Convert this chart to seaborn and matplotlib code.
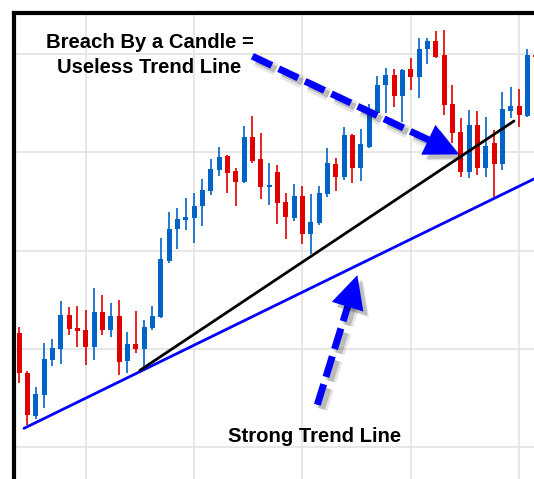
import numpy as np
import pandas as pd
import matplotlib
matplotlib.use("Agg")
import matplotlib.pyplot as plt
import matplotlib.patheffects as pe
from matplotlib.patches import Polygon
import seaborn as sns

# ---------------- data ----------------
opens = [111.6, 107.5, 103.2, 105.3, 108.9, 110.0, 113.4, 112.1, 111.9, 110.2,
         113.7, 111.9, 113.3, 108.8, 110.5, 110.0, 112.1, 113.2, 118.9, 122.2,
         123.1, 123.3, 124.5, 126.1, 128.2, 129.6, 128.1, 127.0, 131.6, 129.3,
         126.5, 128.0, 125.0, 123.3, 125.6, 121.7, 122.8, 125.8, 128.8, 127.5,
         131.8, 128.4, 130.6, 134.0, 136.9, 137.9, 135.7, 138.5, 137.7, 140.5,
         141.3, 139.9, 134.9, 132.1, 128.0, 132.8, 128.4, 131.0, 128.8, 134.2,
         134.7, 133.7, 139.9]
highs = [112.2, 107.7, 106.1, 110.6, 111.0, 114.9, 114.3, 114.4, 114.0, 116.2,
         115.5, 114.7, 115.0, 111.7, 113.8, 112.9, 114.4, 121.3, 123.9, 124.3,
         125.4, 125.9, 127.3, 129.3, 130.6, 129.7, 128.4, 132.7, 133.7, 132.0,
         128.9, 128.7, 125.9, 126.8, 126.6, 125.8, 126.6, 130.5, 129.4, 132.6,
         131.9, 132.4, 134.9, 137.8, 138.6, 138.5, 138.5, 139.6, 141.7, 141.7,
         142.4, 142.5, 136.9, 133.5, 134.3, 134.2, 133.6, 132.3, 136.2, 136.7,
         136.5, 140.5, 140.0]
lows = [106.5, 102.2, 102.8, 104.0, 108.2, 108.5, 111.4, 110.2, 108.3, 108.9,
        111.4, 111.2, 107.3, 107.5, 109.6, 107.8, 111.9, 113.1, 118.7, 120.2,
        122.1, 120.8, 122.5, 125.7, 127.6, 125.9, 124.5, 126.9, 128.9, 125.3,
        124.6, 122.7, 121.2, 123.0, 120.7, 119.7, 122.6, 125.5, 126.1, 127.2,
        126.9, 127.1, 130.5, 133.9, 134.0, 134.6, 133.1, 136.4, 135.5, 139.0,
        139.6, 133.8, 131.0, 127.5, 127.4, 127.7, 127.5, 125.5, 128.2, 133.5,
        132.6, 133.6, 139.6]
closes = [107.5, 103.3, 105.4, 109.0, 110.1, 113.4, 112.0, 111.8, 110.2, 113.7,
          111.9, 113.3, 108.7, 110.5, 110.0, 112.2, 113.3, 119.1, 122.2, 123.2,
          123.4, 124.5, 126.2, 128.3, 129.5, 127.9, 127.0, 131.6, 129.1, 126.5,
          126.7, 124.9, 123.4, 125.6, 121.7, 122.9, 125.9, 128.9, 127.5, 131.8,
          128.4, 130.9, 134.0, 136.9, 137.9, 135.7, 138.4, 137.7, 140.5, 141.3,
          139.7, 134.8, 132.0, 128.0, 132.8, 128.4, 130.7, 128.8, 134.4, 134.7,
          133.8, 139.9, 139.7]

strong_x = [0.6, 63.0]
strong_y = [101.9, 127.8]
useless_x = [14.5, 59.4]
useless_y = [107.8, 133.2]

grid_x = [8, 21, 34, 47, 60]
grid_y = [100, 110, 120, 130, 140]

label_top = ["Breach By a Candle =", "Useless Trend Line"]
label_bottom = "Strong Trend Line"

# arrows: (tail, tip) in data units
arrow1 = ((28.0, 139.8), (52.8, 129.8))
arrow2 = ((35.8, 104.3), (40.6, 117.5))

BLUE = "#0063c8"
RED = "#e00000"
ARROW = "#0000ff"

# ---------------- figure ----------------
sns.set_theme(style="white")
plt.rcParams['font.family'] = ['Liberation Sans', 'DejaVu Sans']

W, H = 534, 479
fig = plt.figure(figsize=(W / 100, H / 100), dpi=100)
fig.patch.set_facecolor("white")
ax = fig.add_axes([14 / W, 0, 1 - 14 / W, 1 - 13 / H])
ax.set_facecolor("white")

ax.set_xlim(-0.6, 61.8)
ax.set_ylim(96.74, 144.2)
ax.set_xticks(grid_x)
ax.set_yticks(grid_y)
ax.tick_params(length=0, labelbottom=False, labelleft=False)
ax.grid(True, color="#e3e3e3", lw=1.2)
ax.set_axisbelow(True)
for s in ["right", "bottom"]:
    ax.spines[s].set_visible(False)
for s in ["left", "top"]:
    ax.spines[s].set_color("black")
    ax.spines[s].set_linewidth(3.0)

df = pd.DataFrame(dict(i=np.arange(len(opens)), open=opens, high=highs,
                       low=lows, close=closes))
up = df["close"] >= df["open"]
cols = np.where(up, BLUE, RED)
ax.vlines(df["i"], df["low"], df["high"], colors=cols, lw=1.2, zorder=3)
body = np.maximum((df["close"] - df["open"]).abs(), 0.2)
ax.bar(df["i"], body, bottom=np.minimum(df["open"], df["close"]), width=0.6,
       color=cols, linewidth=0, zorder=4)

sns.lineplot(x=strong_x, y=strong_y, color="#0000ff", lw=2.0, ax=ax, zorder=5)
sns.lineplot(x=useless_x, y=useless_y, color="black", lw=2.0, ax=ax, zorder=5)

# ---------------- dashed arrows ----------------
fig.canvas.draw()
tr = ax.transData
inv = tr.inverted()

line_shadow = [pe.SimpleLineShadow(offset=(3, -3), shadow_color="black", alpha=0.10, linewidth=9),
               pe.SimpleLineShadow(offset=(3, -3), shadow_color="black", alpha=0.18),
               pe.Normal()]
patch_shadow = [pe.SimplePatchShadow(offset=(4, -4), shadow_rgbFace="black", alpha=0.12),
                pe.SimplePatchShadow(offset=(3, -3), shadow_rgbFace="black", alpha=0.15),
                pe.Normal()]


def draw_arrow(tail, tip, head_len=34, head_half=16):
    t = tr.transform(tail)
    p = tr.transform(tip)
    d = p - t
    u = d / np.hypot(*d)
    n = np.array([-u[1], u[0]])
    base = p - u * head_len
    shaft_end = base + u * 4
    pts = inv.transform(np.vstack([t, shaft_end]))
    line, = ax.plot(pts[:, 0], pts[:, 1], color=ARROW, lw=5, zorder=7,
                    solid_capstyle="butt", dash_capstyle="butt")
    line.set_dashes((3.1, 1.1))
    line.set_path_effects(line_shadow)
    tri = inv.transform(np.vstack([p, base + n * head_half, base - n * head_half]))
    poly = Polygon(tri, closed=True, facecolor=ARROW, edgecolor="none", zorder=8)
    poly.set_path_effects(patch_shadow)
    ax.add_patch(poly)


draw_arrow(*arrow1, head_len=34, head_half=16.5)
draw_arrow(*arrow2, head_len=33, head_half=16.5)

# ---------------- labels ----------------
ax.text(15.7, 140.6, label_top[0], ha="center", va="baseline", fontsize=14.6,
        fontweight="bold", color="black", zorder=9)
ax.text(15.6, 138.1, label_top[1], ha="center", va="baseline", fontsize=14.6,
        fontweight="bold", color="black", zorder=9)
ax.text(35.5, 100.55, label_bottom, ha="center", va="baseline", fontsize=14.6,
        fontweight="bold", color="black", zorder=9)

fig.savefig("out.png", dpi=100, facecolor="white")
